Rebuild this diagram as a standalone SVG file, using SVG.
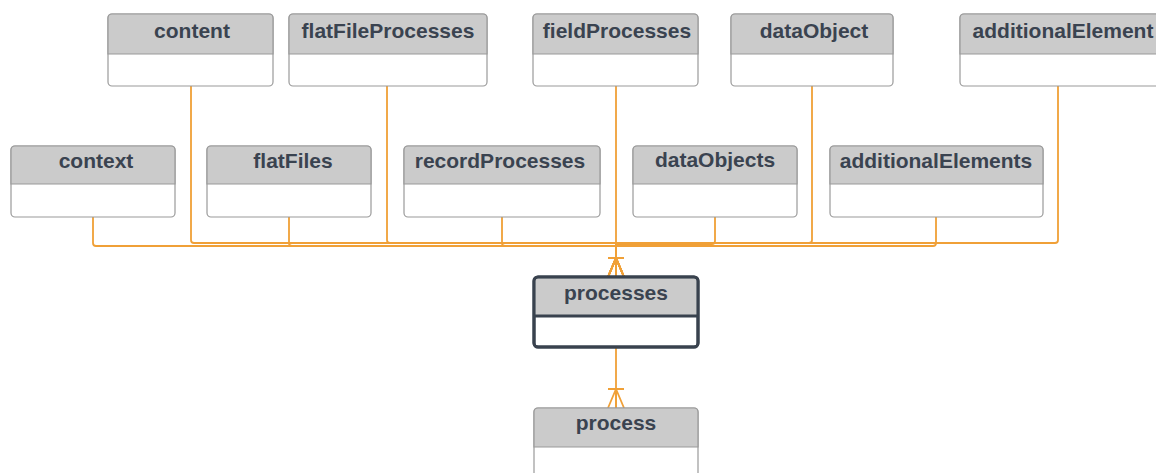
<svg xmlns="http://www.w3.org/2000/svg" width="1156" height="473" viewBox="0 0 1156 473">
<defs>
<style>
.box{fill:#ffffff;stroke:#9a9a9a;stroke-width:1.2}
.hdr{fill:#cbcbcb;stroke:#9a9a9a;stroke-width:1.2}
.boxd{fill:#ffffff;stroke:#39424e;stroke-width:3}
.hdrd{fill:#cbcbcb}
.sepd{stroke:#39424e;stroke-width:3}
.lbl{font-family:"Liberation Sans",Arial,sans-serif;font-weight:bold;font-size:21px;fill:#3a4350;text-anchor:middle}
.conn{fill:none;stroke:#f0a037;stroke-width:1.8;stroke-linejoin:round}
</style>
<marker id="crow" markerUnits="userSpaceOnUse" viewBox="-20 -10 22 20" refX="0" refY="0" markerWidth="22" markerHeight="20" orient="auto">
<path d="M-19,0 L0,-8 M-19,0 L0,8 M-19,0 L0,0 M-19,-8 L-19,8" fill="none" stroke="#f0a037" stroke-width="1.8"/>
</marker>
</defs>

<g id="connectors">
<path class="conn" d="M93,217 V243 Q93,246 96,246 H616 V277" marker-end="url(#crow)"/>
<path class="conn" d="M191,86 V240 Q191,243 194,243 H616 V277" marker-end="url(#crow)"/>
<path class="conn" d="M289,217 V243 Q289,246 292,246 H616 V277" marker-end="url(#crow)"/>
<path class="conn" d="M387,86 V240 Q387,243 390,243 H616 V277" marker-end="url(#crow)"/>
<path class="conn" d="M502,217 V243 Q502,246 505,246 H616 V277" marker-end="url(#crow)"/>
<path class="conn" d="M616,86 V277" marker-end="url(#crow)"/>
<path class="conn" d="M715,217 V241 Q715,244 712,244 H616 V277" marker-end="url(#crow)"/>
<path class="conn" d="M812,86 V240 Q812,243 809,243 H616 V277" marker-end="url(#crow)"/>
<path class="conn" d="M936,217 V243 Q936,246 933,246 H616 V277" marker-end="url(#crow)"/>
<path class="conn" d="M1058,86 V240 Q1058,243 1055,243 H616 V277" marker-end="url(#crow)"/>
<path class="conn" d="M616,347 V408" marker-end="url(#crow)"/>
</g>

<g id="content">
<rect class="box" x="108" y="14" width="165" height="72" rx="4"/>
<path class="hdr" d="M108,54 V18 Q108,14 112,14 H269 Q273,14 273,18 V54 Z"/>
<text class="lbl" x="192" y="38">content</text>
</g>
<g id="flatFileProcesses">
<rect class="box" x="289" y="14" width="198" height="72" rx="4"/>
<path class="hdr" d="M289,54 V18 Q289,14 293,14 H483 Q487,14 487,18 V54 Z"/>
<text class="lbl" x="388" y="38">flatFileProcesses</text>
</g>
<g id="fieldProcesses">
<rect class="box" x="533" y="14" width="165" height="72" rx="4"/>
<path class="hdr" d="M533,54 V18 Q533,14 537,14 H694 Q698,14 698,18 V54 Z"/>
<text class="lbl" x="617" y="38">fieldProcesses</text>
</g>
<g id="dataObject">
<rect class="box" x="731" y="14" width="162" height="72" rx="4"/>
<path class="hdr" d="M731,54 V18 Q731,14 735,14 H889 Q893,14 893,18 V54 Z"/>
<text class="lbl" x="814" y="38">dataObject</text>
</g>
<g id="additionalElement">
<rect class="box" x="960" y="14" width="200" height="72" rx="4"/>
<path class="hdr" d="M960,54 V18 Q960,14 964,14 H1156 Q1160,14 1160,18 V54 Z"/>
<text class="lbl" x="1063" y="38">additionalElement</text>
</g>

<g id="context">
<rect class="box" x="11" y="146" width="164" height="71" rx="4"/>
<path class="hdr" d="M11,184 V150 Q11,146 15,146 H171 Q175,146 175,150 V184 Z"/>
<text class="lbl" x="96" y="168">context</text>
</g>
<g id="flatFiles">
<rect class="box" x="207" y="146" width="164" height="71" rx="4"/>
<path class="hdr" d="M207,184 V150 Q207,146 211,146 H367 Q371,146 371,150 V184 Z"/>
<text class="lbl" x="293" y="168">flatFiles</text>
</g>
<g id="recordProcesses">
<rect class="box" x="404" y="146" width="196" height="71" rx="4"/>
<path class="hdr" d="M404,184 V150 Q404,146 408,146 H596 Q600,146 600,150 V184 Z"/>
<text class="lbl" x="500" y="168">recordProcesses</text>
</g>
<g id="dataObjects">
<rect class="box" x="633" y="146" width="164" height="71" rx="4"/>
<path class="hdr" d="M633,184 V150 Q633,146 637,146 H793 Q797,146 797,150 V184 Z"/>
<text class="lbl" x="715" y="167">dataObjects</text>
</g>
<g id="additionalElements">
<rect class="box" x="830" y="146" width="213" height="71" rx="4"/>
<path class="hdr" d="M830,184 V150 Q830,146 834,146 H1039 Q1043,146 1043,150 V184 Z"/>
<text class="lbl" x="936" y="168">additionalElements</text>
</g>

<g id="processes">
<rect class="boxd" x="534" y="277" width="164" height="70" rx="4"/>
<path class="hdrd" d="M535.5,316 V281 Q535.5,278.5 538,278.5 H694 Q696.5,278.5 696.5,281 V316 Z"/>
<line class="sepd" x1="534" y1="316" x2="698" y2="316"/>
<rect x="534" y="277" width="164" height="70" rx="4" fill="none" stroke="#39424e" stroke-width="3"/>
<text class="lbl" x="616" y="300">processes</text>
</g>
<g id="process">
<rect class="box" x="534" y="408" width="164" height="80" rx="4"/>
<path class="hdr" d="M534,447 V412 Q534,408 538,408 H694 Q698,408 698,412 V447 Z"/>
<text class="lbl" x="616" y="430">process</text>
</g>
</svg>
